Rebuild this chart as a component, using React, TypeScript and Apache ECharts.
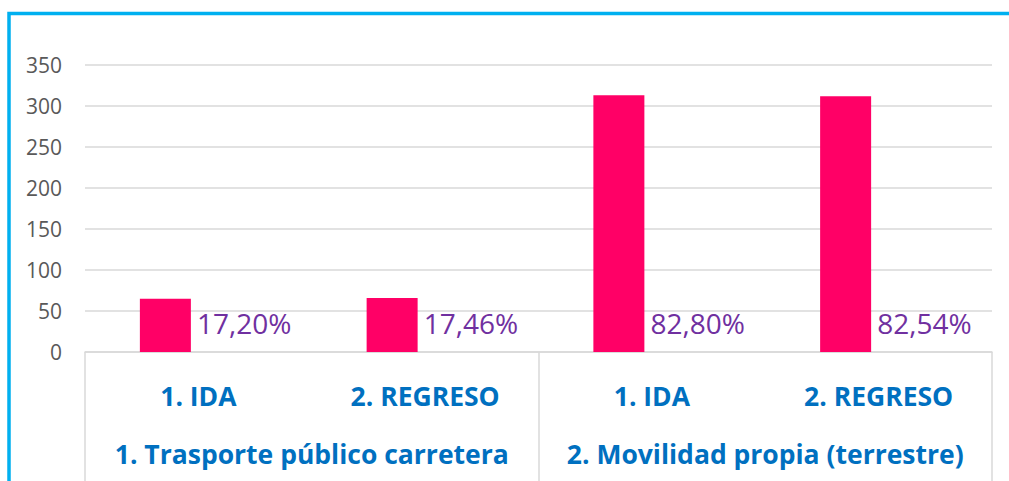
import React, { useEffect, useRef } from "react";
import * as echarts from "echarts";

const subCategories = ["1. IDA", "2. REGRESO", "1. IDA", "2. REGRESO"];
const groups = ["1. Trasporte público carretera", "2. Movilidad propia (terrestre)"];
const values = [65, 66, 313, 312];
const shares = ["17,20%", "17,46%", "82,80%", "82,54%"];
const spacer = [0, 0, 0, 0];

const FONT = "'Open Sans', 'Noto Sans', sans-serif";

export default function App() {
  const ref = useRef<HTMLDivElement>(null);
  useEffect(() => {
    if (!ref.current) return;
    const chart = echarts.init(ref.current, undefined, { renderer: "svg" });
    chart.setOption({
      animation: false,
      backgroundColor: "#ffffff",
      textStyle: { fontFamily: FONT },
      grid: { left: 85, right: 17, top: 65, bottom: 129, containLabel: false },
      graphic: [
        {
          type: "rect",
          shape: { x: 9, y: 13.5, width: 1200, height: 700 },
          style: { fill: "none", stroke: "#00B0F0", lineWidth: 3.5 },
          silent: true,
        },
      ],
      xAxis: [
        {
          type: "category",
          data: subCategories,
          position: "bottom",
          axisLine: { show: true, lineStyle: { color: "#D9D9D9", width: 1.5 } },
          axisTick: { show: false },
          axisLabel: {
            interval: 0,
            margin: 30,
            color: "#0070C0",
            fontWeight: "bold",
            fontSize: 26.5,
            fontFamily: FONT,
          },
        },
        {
          type: "category",
          data: groups,
          position: "bottom",
          axisLine: { show: false },
          axisTick: { show: true, length: 135, lineStyle: { color: "#D9D9D9", width: 1.5 } },
          axisLabel: {
            interval: 0,
            margin: 88,
            color: "#0070C0",
            fontWeight: "bold",
            fontSize: 26.5,
            fontFamily: FONT,
          },
        },
      ],
      yAxis: {
        type: "value",
        min: 0,
        max: 350,
        interval: 50,
        axisLine: { show: false },
        axisTick: { show: false },
        splitLine: { show: true, lineStyle: { color: "#D9D9D9", width: 1.5 } },
        axisLabel: { color: "#595959", fontSize: 21, margin: 23, fontFamily: FONT },
      },
      series: [
        {
          type: "bar",
          xAxisIndex: 0,
          data: values,
          barWidth: 51,
          barGap: "29.4%",
          itemStyle: { color: "#FF0066" },
          label: {
            show: true,
            position: ["100%", "100%"],
            align: "left",
            verticalAlign: "bottom",
            offset: [6, -15],
            color: "#7030A0",
            fontSize: 28,
            fontFamily: FONT,
            formatter: (p: any) => shares[p.dataIndex],
          },
        },
        {
          type: "bar",
          xAxisIndex: 0,
          data: spacer,
          barWidth: 51,
          silent: true,
          itemStyle: { color: "rgba(0,0,0,0)" },
        },
      ],
    });
    return () => chart.dispose();
  }, []);
  return (
    <div
      ref={ref}
      style={{ position: "absolute", left: 0, top: 0, width: 1009, height: 481 }}
    />
  );
}
